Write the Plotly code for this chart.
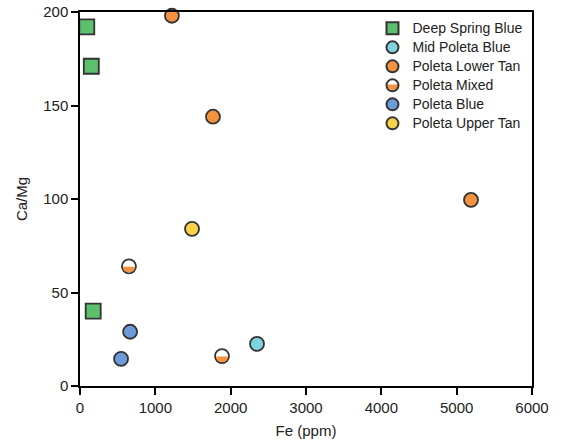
import plotly.graph_objects as go

# Data
dsb_fe = [90, 150, 175]
dsb_camg = [192, 171, 40]
mpb_fe = [2350]
mpb_camg = [22.5]
plt_fe = [1220, 1765, 5190]
plt_camg = [198, 144, 99.5]
pm_fe = [650, 1885]
pm_camg = [64, 16]
pb_fe = [665, 545]
pb_camg = [29, 14.5]
put_fe = [1487]
put_camg = [84]

GREEN = "#5cbf6b"
CYAN = "#7dd4df"
ORANGE = "#f5923f"
BLUE = "#6b9bd9"
YELLOW = "#fbd34b"
EDGE = "#333333"
MS = 14

fig = go.Figure()

def lbl(s):
    return f"<span style='font-size:14px'>{s}</span>"

def add(name, xs, ys, color, symbol="circle", size=MS, showlegend=True,
        legend_fill=None):
    fig.add_trace(go.Scatter(
        x=xs, y=ys, mode="markers", name=lbl(name), cliponaxis=False,
        showlegend=showlegend and legend_fill is None, legendgroup=name,
        marker=dict(symbol=symbol, size=size, color=color,
                    line=dict(color=EDGE, width=1.8))))
    if legend_fill is not None:
        # legend-only entry (transparent fill, half-fill shape shows through)
        fig.add_trace(go.Scatter(
            x=[None], y=[None], mode="markers", name=lbl(name),
            legendgroup=name,
            marker=dict(symbol=symbol, size=size, color=legend_fill,
                        line=dict(color=EDGE, width=1.8))))

add("Deep Spring Blue", dsb_fe, dsb_camg, GREEN, "square", 15)
add("Mid Poleta Blue", mpb_fe, mpb_camg, CYAN)
add("Poleta Lower Tan", plt_fe, plt_camg, ORANGE)
add("Poleta Mixed", pm_fe, pm_camg, "white", legend_fill="rgba(255,255,255,0)")
add("Poleta Blue", pb_fe, pb_camg, BLUE)
add("Poleta Upper Tan", put_fe, put_camg, YELLOW)

# lower-half orange fill for the mixed markers (pixel-sized shapes anchored at data)
r = 6.1
k = 0.5523 * r
half = (f"M {-r},-0.5 C {-r},{-k} {-k},{-r} 0,{-r} "
        f"C {k},{-r} {r},{-k} {r},-0.5 Z")
for xv, yv in zip(pm_fe, pm_camg):
    fig.add_shape(type="path", xref="x", yref="y", xsizemode="pixel",
                  ysizemode="pixel", xanchor=xv, yanchor=yv, path=half,
                  fillcolor=ORANGE, line=dict(width=0), layer="above")
# same half-fill under the legend icon of "Poleta Mixed"
fig.add_shape(type="path", xref="paper", yref="paper", xsizemode="pixel",
              ysizemode="pixel", xanchor=0.6925, yanchor=0.8075, path=half,
              fillcolor=ORANGE, line=dict(width=0), layer="above")

axis_common = dict(showgrid=False, zeroline=False, showline=True,
                   linecolor="black", linewidth=1.5, mirror=True,
                   ticks="outside", ticklen=7, tickwidth=1.5,
                   tickcolor="black", automargin=False,
                   ticklabeloverflow="allow",
                   tickfont=dict(size=15, color="#222"),
                   title_font=dict(size=15, color="#222"))

fig.update_xaxes(range=[0, 6000], dtick=1000, title_text="Fe (ppm)",
                 title_standoff=11, **axis_common)
fig.update_yaxes(range=[0, 200], dtick=50, title_text="Ca/Mg",
                 title_standoff=12, **axis_common)

fig.update_layout(
    width=561, height=445,
    margin=dict(l=80, r=29, t=12, b=59),
    plot_bgcolor="white", paper_bgcolor="white",
    font=dict(family="Liberation Sans, Arial, sans-serif", color="#222"),
    legend=dict(x=0.99, y=0.995, xanchor="right", yanchor="top",
                font=dict(size=11.5), itemsizing="constant", itemwidth=30,
                tracegroupgap=0, bgcolor="rgba(0,0,0,0)"),
)

fig.write_html("out.html", config={"displayModeBar": False},
               post_script="document.body.style.margin='0';")
